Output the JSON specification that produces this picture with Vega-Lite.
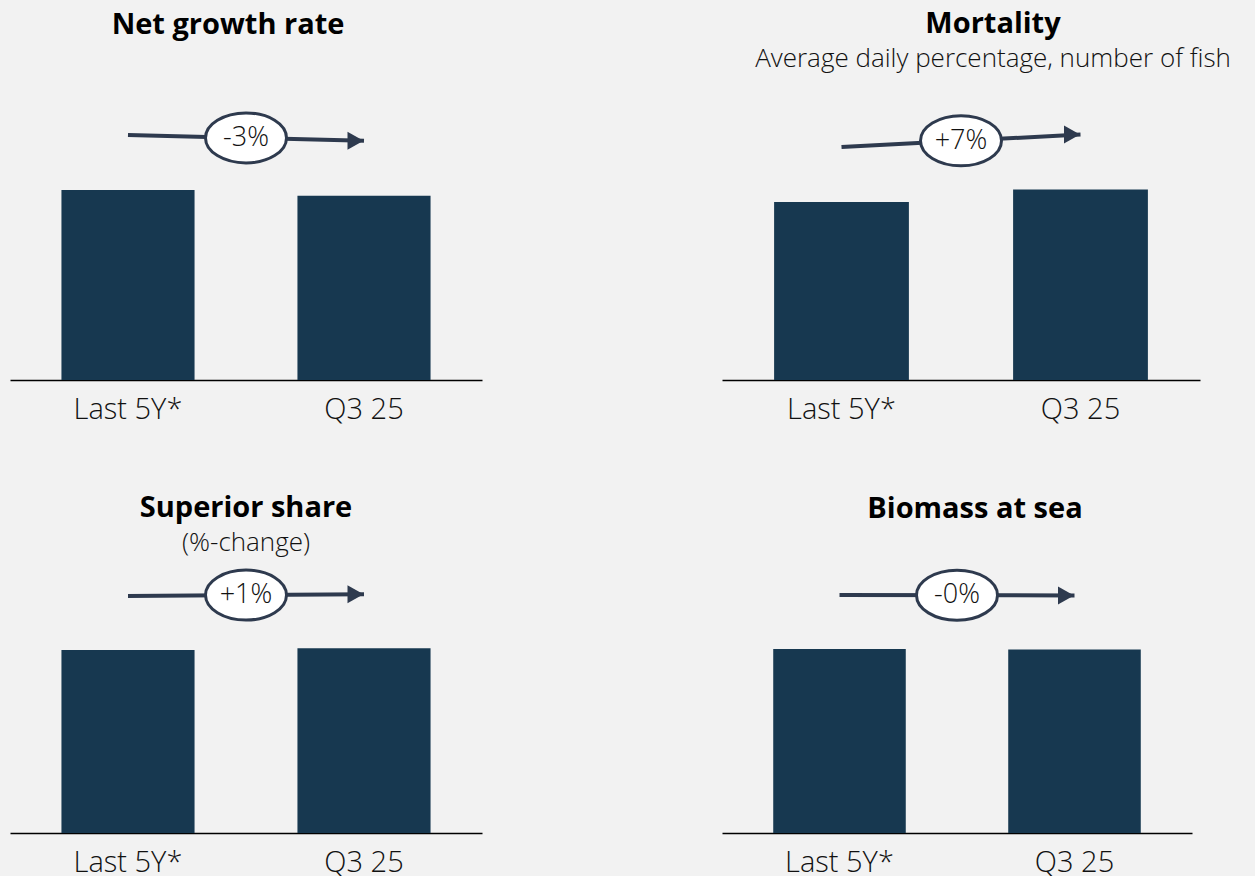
{
  "$schema": "https://vega.github.io/schema/vega-lite/v6.json",
  "background": "#f2f2f2",
  "padding": {"left": 10, "top": 10, "right": 42, "bottom": 0},
  "autosize": {"type": "pad"},
  "spacing": 70,
  "config": {
    "view": {"stroke": null},
    "axis": {"domainColor": "#000000", "domainWidth": 1.5, "ticks": false, "labelFontSize": 29, "labelFont": "Open Sans", "labelFontWeight": 300, "labelColor": "#111111", "labelPadding": 15, "labelAngle": 0, "title": null},
    "title": {"font": "Open Sans", "fontSize": 29, "fontWeight": "bold", "color": "#000000", "subtitleFont": "Open Sans", "subtitleFontSize": 26, "subtitleFontWeight": 300, "subtitleColor": "#111111", "subtitlePadding": 7, "anchor": "middle"}
  },
  "vconcat": [
    {
      "spacing": 240,
      "hconcat": [
        {
          "width": 472, "height": 280,
          "title": {"text": "Net growth rate", "offset": 60, "dx": -18},
          "data": {"values": [
            {"period": "Last 5Y*", "value": 100, "change": "-3%"},
            {"period": "Q3 25", "value": 97, "change": "-3%"}
          ]},
          "encoding": {
            "x": {"field": "period", "type": "nominal", "sort": null, "scale": {"paddingInner": 0.436, "paddingOuter": 0.218}},
            "y": {"field": "value", "type": "quantitative", "scale": {"domain": [0, 147.4], "nice": false}, "axis": null}
          },
          "layer": [
            {"mark": {"type": "bar", "color": "#173850"}},
            {"mark": {"type": "line", "color": "#2e3a4e", "strokeWidth": 4, "yOffset": -55}},
            {"transform": [{"filter": "datum.period == 'Q3 25'"}], "mark": {"type": "point", "shape": "M -0.89 -1 L 0.89 0 L -0.89 1 Z", "size": 324, "filled": true, "color": "#2e3a4e", "opacity": 1, "xOffset": -8.5, "yOffset": -55}},
            {"transform": [{"aggregate": [{"op": "mean", "field": "value", "as": "value"}], "groupby": ["change"]}], "mark": {"type": "point", "shape": "M -1 0 A 1 0.617 0 1 1 1 0 A 1 0.617 0 1 1 -1 0 Z", "size": 6561, "filled": true, "fill": "#ffffff", "stroke": "#2e3a4e", "strokeWidth": 3, "opacity": 1, "xOffset": 118, "yOffset": -55}, "encoding": {"x": {"datum": "Last 5Y*"}}},
            {"transform": [{"aggregate": [{"op": "mean", "field": "value", "as": "value"}], "groupby": ["change"]}], "mark": {"type": "text", "font": "Open Sans", "fontSize": 27, "fontWeight": 300, "color": "#111111", "baseline": "middle", "xOffset": 118, "yOffset": -55}, "encoding": {"x": {"datum": "Last 5Y*"}, "text": {"field": "change"}}}
          ]
        },
        {
          "width": 478, "height": 280,
          "title": {"text": "Mortality", "subtitle": "Average daily percentage, number of fish", "offset": 28, "dx": 32},
          "data": {"values": [
            {"period": "Last 5Y*", "value": 100, "change": "+7%"},
            {"period": "Q3 25", "value": 107, "change": "+7%"}
          ]},
          "encoding": {
            "x": {"field": "period", "type": "nominal", "sort": null, "scale": {"paddingInner": 0.436, "paddingOuter": 0.218}},
            "y": {"field": "value", "type": "quantitative", "scale": {"domain": [0, 157.3], "nice": false}, "axis": null}
          },
          "layer": [
            {"mark": {"type": "bar", "color": "#173850"}},
            {"mark": {"type": "line", "color": "#2e3a4e", "strokeWidth": 4, "yOffset": -55}},
            {"transform": [{"filter": "datum.period == 'Q3 25'"}], "mark": {"type": "point", "shape": "M -0.89 -1 L 0.89 0 L -0.89 1 Z", "size": 324, "filled": true, "color": "#2e3a4e", "opacity": 1, "xOffset": -8.5, "yOffset": -55}},
            {"transform": [{"aggregate": [{"op": "mean", "field": "value", "as": "value"}], "groupby": ["change"]}], "mark": {"type": "point", "shape": "M -1 0 A 1 0.617 0 1 1 1 0 A 1 0.617 0 1 1 -1 0 Z", "size": 6561, "filled": true, "fill": "#ffffff", "stroke": "#2e3a4e", "strokeWidth": 3, "opacity": 1, "xOffset": 119.5, "yOffset": -55}, "encoding": {"x": {"datum": "Last 5Y*"}}},
            {"transform": [{"aggregate": [{"op": "mean", "field": "value", "as": "value"}], "groupby": ["change"]}], "mark": {"type": "text", "font": "Open Sans", "fontSize": 27, "fontWeight": 300, "color": "#111111", "baseline": "middle", "xOffset": 119.5, "yOffset": -55}, "encoding": {"x": {"datum": "Last 5Y*"}, "text": {"field": "change"}}}
          ]
        }
      ]
    },
    {
      "spacing": 240,
      "hconcat": [
        {
          "width": 472, "height": 273,
          "title": {"text": "Superior share", "subtitle": "(%-change)", "offset": 4, "dx": 0},
          "data": {"values": [
            {"period": "Last 5Y*", "value": 100, "change": "+1%"},
            {"period": "Q3 25", "value": 101, "change": "+1%"}
          ]},
          "encoding": {
            "x": {"field": "period", "type": "nominal", "sort": null, "scale": {"paddingInner": 0.436, "paddingOuter": 0.218}},
            "y": {"field": "value", "type": "quantitative", "scale": {"domain": [0, 149.2], "nice": false}, "axis": null}
          },
          "layer": [
            {"mark": {"type": "bar", "color": "#173850"}},
            {"mark": {"type": "line", "color": "#2e3a4e", "strokeWidth": 4, "yOffset": -54}},
            {"transform": [{"filter": "datum.period == 'Q3 25'"}], "mark": {"type": "point", "shape": "M -0.89 -1 L 0.89 0 L -0.89 1 Z", "size": 324, "filled": true, "color": "#2e3a4e", "opacity": 1, "xOffset": -8.5, "yOffset": -54}},
            {"transform": [{"aggregate": [{"op": "mean", "field": "value", "as": "value"}], "groupby": ["change"]}], "mark": {"type": "point", "shape": "M -1 0 A 1 0.617 0 1 1 1 0 A 1 0.617 0 1 1 -1 0 Z", "size": 6561, "filled": true, "fill": "#ffffff", "stroke": "#2e3a4e", "strokeWidth": 3, "opacity": 1, "xOffset": 118, "yOffset": -54}, "encoding": {"x": {"datum": "Last 5Y*"}}},
            {"transform": [{"aggregate": [{"op": "mean", "field": "value", "as": "value"}], "groupby": ["change"]}], "mark": {"type": "text", "font": "Open Sans", "fontSize": 27, "fontWeight": 300, "color": "#111111", "baseline": "middle", "xOffset": 118, "yOffset": -54}, "encoding": {"x": {"datum": "Last 5Y*"}, "text": {"field": "change"}}}
          ]
        },
        {
          "width": 470, "height": 273,
          "title": {"text": "Biomass at sea", "offset": 36, "dx": 18},
          "data": {"values": [
            {"period": "Last 5Y*", "value": 100, "change": "-0%"},
            {"period": "Q3 25", "value": 99.8, "change": "-0%"}
          ]},
          "encoding": {
            "x": {"field": "period", "type": "nominal", "sort": null, "scale": {"paddingInner": 0.436, "paddingOuter": 0.218}},
            "y": {"field": "value", "type": "quantitative", "scale": {"domain": [0, 148.4], "nice": false}, "axis": null}
          },
          "layer": [
            {"mark": {"type": "bar", "color": "#173850"}},
            {"mark": {"type": "line", "color": "#2e3a4e", "strokeWidth": 4, "yOffset": -54}},
            {"transform": [{"filter": "datum.period == 'Q3 25'"}], "mark": {"type": "point", "shape": "M -0.89 -1 L 0.89 0 L -0.89 1 Z", "size": 324, "filled": true, "color": "#2e3a4e", "opacity": 1, "xOffset": -8.5, "yOffset": -54}},
            {"transform": [{"aggregate": [{"op": "mean", "field": "value", "as": "value"}], "groupby": ["change"]}], "mark": {"type": "point", "shape": "M -1 0 A 1 0.617 0 1 1 1 0 A 1 0.617 0 1 1 -1 0 Z", "size": 6561, "filled": true, "fill": "#ffffff", "stroke": "#2e3a4e", "strokeWidth": 3, "opacity": 1, "xOffset": 117.5, "yOffset": -54}, "encoding": {"x": {"datum": "Last 5Y*"}}},
            {"transform": [{"aggregate": [{"op": "mean", "field": "value", "as": "value"}], "groupby": ["change"]}], "mark": {"type": "text", "font": "Open Sans", "fontSize": 27, "fontWeight": 300, "color": "#111111", "baseline": "middle", "xOffset": 117.5, "yOffset": -54}, "encoding": {"x": {"datum": "Last 5Y*"}, "text": {"field": "change"}}}
          ]
        }
      ]
    }
  ]
}
